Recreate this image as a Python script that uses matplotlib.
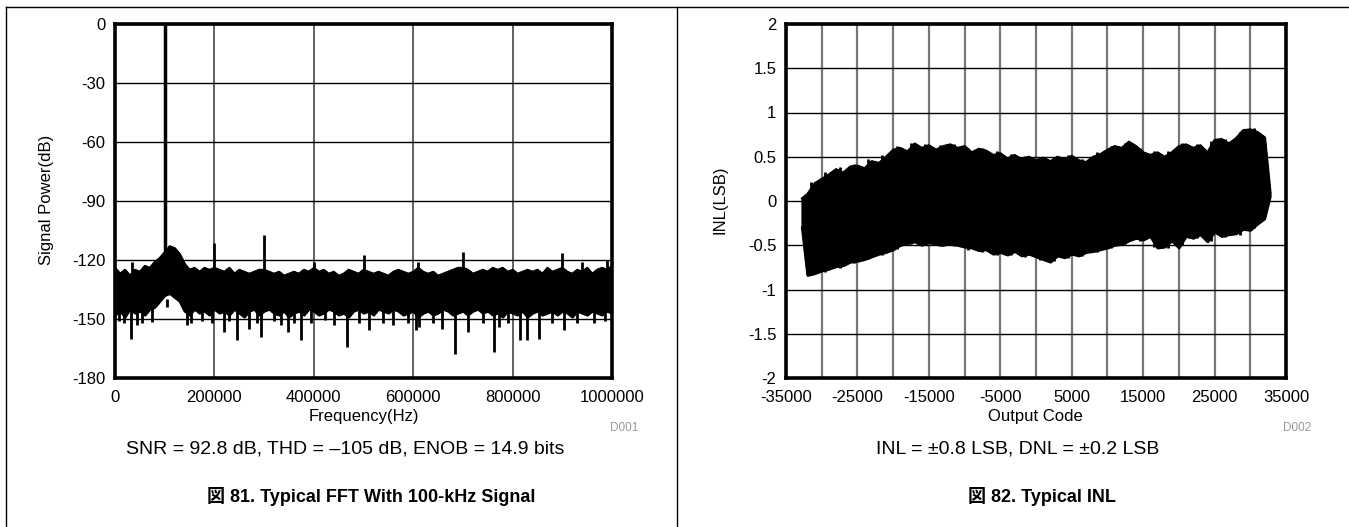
#Import Libraries
import numpy as np
import matplotlib.pyplot as plt
from matplotlib.lines import Line2D

plt.rcParams['font.family'] = ['Liberation Sans', 'Noto Sans CJK JP', 'DejaVu Sans']
plt.rcParams['axes.unicode_minus'] = False

#FFT data (every 10 kHz)
fft_freq = np.arange(0, 1000001, 10000)
fft_hi = [-124, -127, -125, -128, -125, -126, -123, -124, -121, -119,
          -116, -113, -114, -117, -122, -125, -124, -126, -124, -125,
          -124, -125, -126, -124, -127, -125, -126, -127, -126, -125,
          -125, -126, -127, -126, -128, -127, -126, -127, -125, -126,
          -124, -126, -125, -127, -126, -128, -127, -125, -126, -127,
          -125, -126, -127, -126, -127, -128, -126, -125, -126, -127,
          -126, -124, -126, -127, -126, -128, -127, -126, -125, -124,
          -124, -125, -127, -126, -125, -126, -124, -125, -124, -126,
          -125, -127, -126, -125, -126, -125, -127, -124, -126, -125,
          -124, -126, -127, -125, -126, -124, -127, -125, -124, -125, -123]
fft_lo = [-148, -146, -149, -145, -147, -146, -148, -145, -144, -141,
          -138, -137, -139, -141, -146, -148, -145, -147, -146, -148,
          -145, -147, -146, -148, -145, -147, -149, -146, -145, -148,
          -146, -145, -147, -148, -146, -149, -147, -146, -148, -145,
          -146, -148, -147, -145, -146, -148, -147, -149, -146, -145,
          -147, -146, -148, -145, -146, -147, -145, -146, -148, -147,
          -146, -149, -147, -146, -148, -147, -145, -146, -148, -147,
          -146, -148, -146, -145, -147, -146, -148, -147, -149, -146,
          -147, -148, -146, -149, -147, -146, -148, -147, -146, -148,
          -146, -147, -149, -146, -147, -148, -146, -147, -148, -146, -147]
#spikes below the noise band
dn_freq = [8e3, 18e3, 32e3, 45e3, 55e3, 74e3, 104e3, 144e3, 152e3, 175e3, 196e3,
           219e3, 230e3, 246e3, 270e3, 285e3, 294e3, 320e3, 335e3, 348e3, 360e3,
           375e3, 395e3, 423e3, 440e3, 467e3, 490e3, 511e3, 540e3, 560e3, 590e3,
           605e3, 612e3, 640e3, 658e3, 684e3, 710e3, 740e3, 763e3, 772e3, 790e3,
           815e3, 829e3, 853e3, 880e3, 903e3, 930e3, 964e3, 985e3]
dn_val = [-151, -152, -160, -153, -152, -151.5, -144, -153, -152, -151, -152,
          -156.6, -151, -160.7, -155, -152, -159, -151, -153, -156.6, -152,
          -160.7, -152, -150.5, -153, -164, -152, -155.6, -152, -153, -152,
          -155.6, -154, -152, -155, -168, -156.6, -152, -166.8, -154, -152,
          -160.7, -160.7, -160, -152, -155.6, -152, -152, -151]
#harmonics and small spurs above the band
up_freq = [35e3, 200e3, 300e3, 400e3, 500e3, 610e3, 700e3, 900e3, 940e3, 990e3]
up_val = [-121, -111.4, -107.3, -121, -117.5, -121, -116, -116.5, -121, -120]
fund_freq = 100e3
fund_val = 0
fft_xticks = [0, 200000, 400000, 600000, 800000, 1000000]

#INL data (every 1000 codes)
inl_code = [-32768] + list(range(-32000, 32001, 1000)) + [32767]
inl_hi = [0.03, 0.08, 0.2, 0.25, 0.3, 0.36, 0.32, 0.39, 0.4, 0.37, 0.45, 0.43, 0.5,
          0.58, 0.6, 0.56, 0.65, 0.6, 0.63, 0.58, 0.62, 0.64, 0.6, 0.62, 0.55, 0.59,
          0.57, 0.52, 0.54, 0.48, 0.52, 0.47, 0.5, 0.46, 0.49, 0.45, 0.5, 0.47, 0.51,
          0.46, 0.44, 0.5, 0.53, 0.58, 0.62, 0.6, 0.67, 0.62, 0.55, 0.52, 0.55, 0.5,
          0.55, 0.62, 0.64, 0.6, 0.63, 0.55, 0.69, 0.7, 0.65, 0.71, 0.8, 0.81, 0.78,
          0.72, 0.1]
inl_lo = [-0.3, -0.84, -0.82, -0.79, -0.77, -0.74, -0.73, -0.69, -0.68, -0.66, -0.63,
          -0.6, -0.58, -0.55, -0.5, -0.48, -0.46, -0.5, -0.47, -0.49, -0.5, -0.48,
          -0.5, -0.52, -0.53, -0.56, -0.55, -0.6, -0.58, -0.61, -0.57, -0.62, -0.6,
          -0.63, -0.66, -0.69, -0.62, -0.64, -0.6, -0.62, -0.58, -0.57, -0.55, -0.53,
          -0.5, -0.49, -0.45, -0.42, -0.44, -0.4, -0.53, -0.52, -0.45, -0.53, -0.4,
          -0.42, -0.38, -0.46, -0.35, -0.4, -0.38, -0.37, -0.32, -0.33, -0.26, -0.2,
          0.05]
#individual strokes sticking out of the INL band
inl_spk_code = list(range(-31500, 31501, 2000))
inl_spk_hi = [0.22, 0.33, 0.38, 0.42, 0.47, 0.52, 0.62, 0.66, 0.64, 0.63, 0.64,
              0.6, 0.6, 0.56, 0.53, 0.51, 0.5, 0.5, 0.52, 0.48, 0.55, 0.62, 0.66,
              0.6, 0.56, 0.56, 0.65, 0.64, 0.68, 0.7, 0.78, 0.82]
inl_spk_lo = [-0.84, -0.8, -0.76, -0.7, -0.66, -0.61, -0.54, -0.49, -0.5, -0.51,
              -0.51, -0.55, -0.58, -0.61, -0.61, -0.63, -0.67, -0.68, -0.64, -0.62,
              -0.58, -0.53, -0.49, -0.45, -0.52, -0.53, -0.5, -0.42, -0.45, -0.41,
              -0.38, -0.3]
inl_xticks = [-35000, -25000, -15000, -5000, 5000, 15000, 25000, 35000]
inl_yticks = [-2, -1.5, -1, -0.5, 0, 0.5, 1, 1.5, 2]

fig = plt.figure(figsize=(13.49, 5.27), dpi=100)
W, H = 1349, 527

def px(x, y):
    return x / W, 1 - y / H

def style_axes(ax):
    for s in ax.spines.values():
        s.set_linewidth(2.6)
    ax.tick_params(which='both', length=0, labelsize=12)
    ax.tick_params(axis='x', pad=9)
    ax.tick_params(axis='y', pad=7)
    ax.set_axisbelow(True)

#left panel: FFT
ax1 = fig.add_axes([115 / W, 1 - 378 / H, 497 / W, 354 / H])
ax1.fill_between(fft_freq, fft_hi, fft_lo, color='black', lw=1.5)
ax1.plot(fft_freq, fft_hi, color='black', lw=1.5)
ax1.plot(fft_freq, fft_lo, color='black', lw=1.5)
ax1.vlines(dn_freq, -140, dn_val, color='black', lw=2)
ax1.vlines(up_freq, -130, up_val, color='black', lw=2)
ax1.vlines(fund_freq, -125, fund_val, color='black', lw=2.5)
ax1.set_xlim(0, 1000000)
ax1.set_ylim(-180, 0)
ax1.set_xticks(fft_xticks)
ax1.set_xticklabels([str(t) for t in fft_xticks])
ax1.set_yticks(np.arange(-180, 1, 30))
ax1.grid(axis='y', color='black', lw=1)
ax1.grid(axis='x', color='#555555', lw=1.3)
style_axes(ax1)

#right panel: INL
ax2 = fig.add_axes([786 / W, 1 - 378 / H, 500 / W, 354 / H])
ax2.fill_between(inl_code, inl_hi, inl_lo, color='black', lw=1.5)
ax2.plot(inl_code, inl_hi, color='black', lw=1.5)
ax2.plot(inl_code, inl_lo, color='black', lw=1.5)
ax2.vlines(inl_spk_code, inl_spk_lo, inl_spk_hi, color='black', lw=2)
ax2.set_xlim(-35000, 35000)
ax2.set_ylim(-2, 2)
ax2.set_xticks(inl_xticks)
ax2.set_xticklabels([str(t) for t in inl_xticks])
ax2.set_xticks(np.arange(-30000, 35000, 10000), minor=True)
ax2.set_yticks(inl_yticks)
ax2.set_yticklabels(['%g' % t for t in inl_yticks])
ax2.grid(axis='y', color='black', lw=1)
ax2.grid(axis='x', which='both', color='#777777', lw=1.6)
style_axes(ax2)

#axis labels and notes
fig.text(*px(47, 200), 'Signal Power(dB)', rotation=90, ha='center', va='center', fontsize=12)
fig.text(*px(364, 416), 'Frequency(Hz)', ha='center', va='center', fontsize=12)
fig.text(*px(624, 428), 'D001', ha='center', va='center', fontsize=8.5, color='#999999')
fig.text(*px(345, 449), 'SNR = 92.8 dB, THD = \u2013105 dB, ENOB = 14.9 bits',
         ha='center', va='center', fontsize=14)
fig.text(*px(371, 497), '図 81. Typical FFT With 100-kHz Signal',
         ha='center', va='center', fontsize=13, fontweight='bold')

fig.text(*px(720, 200), 'INL(LSB)', rotation=90, ha='center', va='center', fontsize=12)
fig.text(*px(1035, 416), 'Output Code', ha='center', va='center', fontsize=12)
fig.text(*px(1297, 428), 'D002', ha='center', va='center', fontsize=8.5, color='#999999')
fig.text(*px(1018, 449), 'INL = \u00b10.8 LSB, DNL = \u00b10.2 LSB',
         ha='center', va='center', fontsize=14)
fig.text(*px(1042, 497), '図 82. Typical INL',
         ha='center', va='center', fontsize=13, fontweight='bold')

#panel frame lines
fig.add_artist(Line2D([6 / W, 1], [1 - 7 / H] * 2, color='black', lw=1))
fig.add_artist(Line2D([6 / W] * 2, [0, 1 - 7 / H], color='black', lw=1))
fig.add_artist(Line2D([677 / W] * 2, [0, 1 - 7 / H], color='black', lw=1))

fig.savefig('out.png', dpi=100)
